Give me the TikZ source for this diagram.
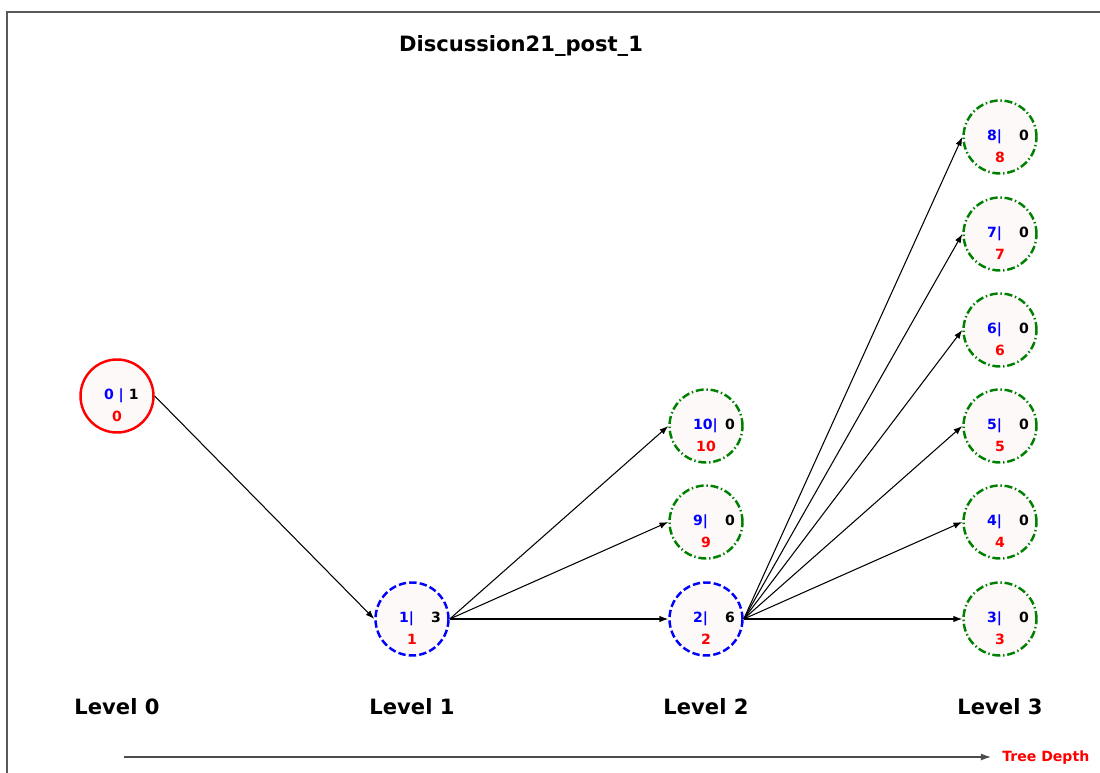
\documentclass[tikz,border=0pt]{standalone}
\usepackage{fontspec}
\setmainfont{DejaVu Sans}
\usetikzlibrary{arrows.meta}

\definecolor{nodefill}{RGB}{253,249,249}
\definecolor{mplgreen}{RGB}{0,128,0}

\newcommand{\nodeinfo}[4][18pt]{\hspace*{\dimexpr#1-8.8pt\relax}\makebox[#1][l]{\textcolor{blue}{#2}}\makebox[6pt]{#3}\\\textcolor{red}{#4}}

\begin{document}
\begin{tikzpicture}[
    x=0.02cm, y=-0.02cm,
    every node/.style = {align=center},
    treenode/.style = {
      shape=circle,
      minimum size=1.46cm,
      line width=1.4pt,
      fill=nodefill
    },
    rootnode/.style = {treenode, draw=red},
    innernode/.style = {treenode, draw=blue, dash pattern=on 4.2pt off 1.8pt},
    leafnode/.style = {treenode, draw=mplgreen,
      dash pattern=on 4.5pt off 1.6pt on 0.8pt off 1.6pt},
    info/.style = {font=\fontsize{8}{12.5}\selectfont\bfseries, yshift=-5.2pt},
    link/.style = {-{Latex[length=5pt,width=3.6pt]}, line width=0.6pt},
    levelname/.style = {font=\fontsize{12}{14}\selectfont\bfseries, anchor=base}
  ]
  \clip (0,0) rectangle (1100,773);
  \draw[black!65, line width=1pt] (7,800) -- (7,12) -- (1120,12);

  \node[levelname] (title) at (521,52) {Discussion21\_post\_1};

  \node[rootnode, label={[info]center:{\nodeinfo[14pt]{0 |}{1}{0}}}] (n0) at (117,396) {};
  \node[innernode, label={[info]center:{\nodeinfo{1|}{3}{1}}}] (n1) at (412,619) {};
  \node[innernode, label={[info]center:{\nodeinfo{2|}{6}{2}}}] (n2) at (706,619) {};
  \node[leafnode, label={[info]center:{\nodeinfo{9|}{0}{9}}}] (n9) at (706,522) {};
  \node[leafnode, label={[info]center:{\nodeinfo{10|}{0}{10}}}] (n10) at (706,426) {};
  \foreach \i/\y in {3/619,4/522,5/426,6/330,7/234,8/137}
    \node[leafnode, label={[info]center:{\nodeinfo{\i|}{0}{\i}}}] (n\i) at (1000,\y) {};

  \draw[link] (n0.east) -- (n1.west);
  \foreach \t in {n2,n9,n10}
    \draw[link] (n1.east) -- (\t.west);
  \foreach \i in {3,...,8}
    \draw[link] (n2.east) -- (n\i.west);

  \foreach \i/\x in {0/117,1/412,2/706,3/1000}
    \node[levelname] (lv\i) at (\x,715) {Level \i};

  \coordinate (dstart) at (124,757);
  \node[red, font=\fontsize{8}{10}\selectfont\bfseries, anchor=base west, inner sep=0pt] (depth) at (1002,762) {Tree Depth};
  \draw[-{Latex[length=6pt,width=4pt]}, black!70, line width=1pt, shorten >=6pt] (dstart) -- (dstart -| depth.west);
\end{tikzpicture}
\end{document}
